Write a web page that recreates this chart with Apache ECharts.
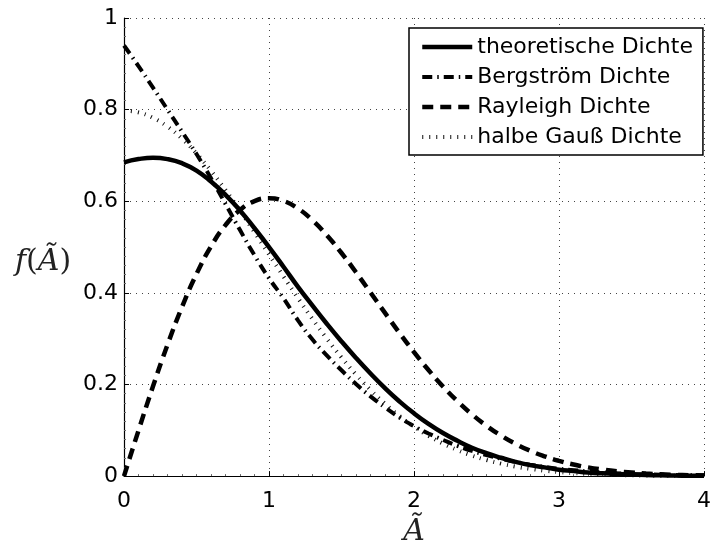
<!DOCTYPE html>
<html>
<head>
<meta charset="utf-8">
<script src="https://cdn.jsdelivr.net/npm/echarts@6/dist/echarts.min.js"></script>
<style>html,body{margin:0;padding:0;background:#fff}#c{width:714px;height:552px}</style>
</head>
<body>
<div id="c"></div>
<script>
var xValues = [0,0.1,0.2,0.3,0.4,0.5,0.6,0.7,0.8,0.9,1.0,1.1,1.2,1.3,1.4,1.5,1.6,1.7,1.8,1.9,2.0,2.1,2.2,2.3,2.4,2.5,2.6,2.7,2.8,2.9,3.0,3.1,3.2,3.3,3.4,3.5,3.6,3.7,3.8,3.9,4.0];
var theoretisch = [0.685,0.692,0.695,0.692,0.683,0.667,0.643,0.614,0.580,0.541,0.500,0.457,0.413,0.372,0.332,0.294,0.258,0.224,0.192,0.163,0.137,0.114,0.094,0.077,0.062,0.050,0.040,0.031,0.024,0.019,0.014,0.011,0.008,0.006,0.0045,0.0033,0.0024,0.0017,0.0012,0.0009,0.0006];
var bergstroem = [0.940,0.895,0.848,0.800,0.752,0.703,0.650,0.594,0.537,0.482,0.432,0.388,0.340,0.298,0.263,0.231,0.201,0.174,0.150,0.128,0.109,0.093,0.079,0.066,0.055,0.046,0.038,0.031,0.025,0.020,0.016,0.013,0.010,0.008,0.006,0.0048,0.0037,0.0029,0.0022,0.0017,0.0013];
var rayleigh = [0,0.0995,0.1960,0.2868,0.3692,0.4412,0.5012,0.5479,0.5809,0.6003,0.6065,0.6007,0.5841,0.5584,0.5254,0.4870,0.4449,0.4008,0.3562,0.3125,0.2707,0.2315,0.1956,0.1633,0.1347,0.1098,0.0885,0.0705,0.0555,0.0433,0.0333,0.0254,0.0191,0.0143,0.0105,0.0077,0.0055,0.0039,0.0028,0.0019,0.0013];
var halbeGauss = [0.7979,0.7939,0.7821,0.7628,0.7366,0.7041,0.6665,0.6245,0.5794,0.5322,0.4839,0.4357,0.3884,0.3427,0.2995,0.2590,0.2218,0.1881,0.1579,0.1312,0.1080,0.0880,0.0710,0.0567,0.0448,0.0351,0.0272,0.0208,0.0158,0.0119,0.0089,0.0065,0.0048,0.0034,0.0025,0.0017,0.0012,0.0008,0.0006,0.0004,0.0003];
var seriesNames = ['theoretische Dichte','Bergström Dichte','Rayleigh Dichte','halbe Gauß Dichte'];

function pairs(ys){ return xValues.map(function(x,i){ return [x, ys[i]]; }); }

var chart = echarts.init(document.getElementById('c'), null, {renderer:'canvas'});
var gridLine = {show:true, lineStyle:{color:'#444', width:1, type:[1,5]}};
var sans = 'DejaVu Sans';
var serif = 'DejaVu Serif';
chart.setOption({
  backgroundColor:'#fff',
  animation:false,
  grid:{left:124, right:4, top:18, bottom:71, containLabel:false},
  legend:{
    orient:'vertical', left:409, top:28,
    backgroundColor:'#fff', borderColor:'#000', borderWidth:1.5, borderRadius:0,
    padding:[7,10,6,11], itemWidth:50, itemHeight:14, itemGap:6,
    textStyle:{fontFamily:sans, fontSize:22, color:'#000', lineHeight:24},
    lineStyle:{width:'inherit'},
    itemStyle:{color:'rgba(0,0,0,0)', borderColor:'rgba(0,0,0,0)', borderWidth:0},
    data:seriesNames
  },
  xAxis:{
    type:'value', min:0, max:4, interval:1,
    name:'Ã', nameLocation:'middle', nameGap:53,
    nameTextStyle:{fontFamily:serif, fontStyle:'italic', fontSize:30, color:'#222', align:'center', verticalAlign:'middle'},
    axisLine:{show:true, onZero:false, lineStyle:{color:'#000', width:1.2}},
    axisTick:{show:true, inside:true, length:5, lineStyle:{color:'#000'}},
    minorTick:{show:true, splitNumber:10, length:2, lineStyle:{color:'#666'}},
    axisLabel:{fontFamily:sans, fontSize:22, color:'#000', margin:14},
    splitLine:gridLine
  },
  yAxis:{
    type:'value', min:0, max:1, interval:0.2,
    name:'{i|f}{n|(}{i|Ã}{n|)}', nameLocation:'middle', nameRotate:0, nameGap:81,
    nameTextStyle:{fontFamily:serif, fontSize:30, color:'#222', align:'center', verticalAlign:'middle', padding:[30,0,0,0],
      rich:{
        i:{fontFamily:serif, fontStyle:'italic', fontSize:30, color:'#222'},
        n:{fontFamily:serif, fontSize:30, color:'#222'}
      }},
    axisLine:{show:true, onZero:false, lineStyle:{color:'#000', width:1.2}},
    axisTick:{show:true, inside:true, length:5, lineStyle:{color:'#000'}},
    minorTick:{show:true, splitNumber:10, length:2, lineStyle:{color:'#666'}},
    axisLabel:{fontFamily:sans, fontSize:22, color:'#000', margin:6},
    splitLine:gridLine
  },
  series:[
    {name:seriesNames[0], type:'line', data:pairs(theoretisch), smooth:true, symbol:'none', z:4,
      itemStyle:{color:'#000'},
      lineStyle:{color:'#000', width:4.5, type:'solid'}},
    {name:seriesNames[1], type:'line', data:pairs(bergstroem), smooth:true, symbol:'none', z:3,
      itemStyle:{color:'#000'},
      lineStyle:{color:'#000', width:4, type:[10,5,1.5,5], cap:'butt'}},
    {name:seriesNames[2], type:'line', data:pairs(rayleigh), smooth:true, symbol:'none', z:3,
      itemStyle:{color:'#000'},
      lineStyle:{color:'#000', width:4.5, type:[11,7], cap:'butt'}},
    {name:seriesNames[3], type:'line', data:pairs(halbeGauss), smooth:true, symbol:'none', z:3,
      itemStyle:{color:'#000'},
      lineStyle:{color:'#111', width:4, type:[1,6], cap:'butt'}}
  ]
});
</script>
</body>
</html>
